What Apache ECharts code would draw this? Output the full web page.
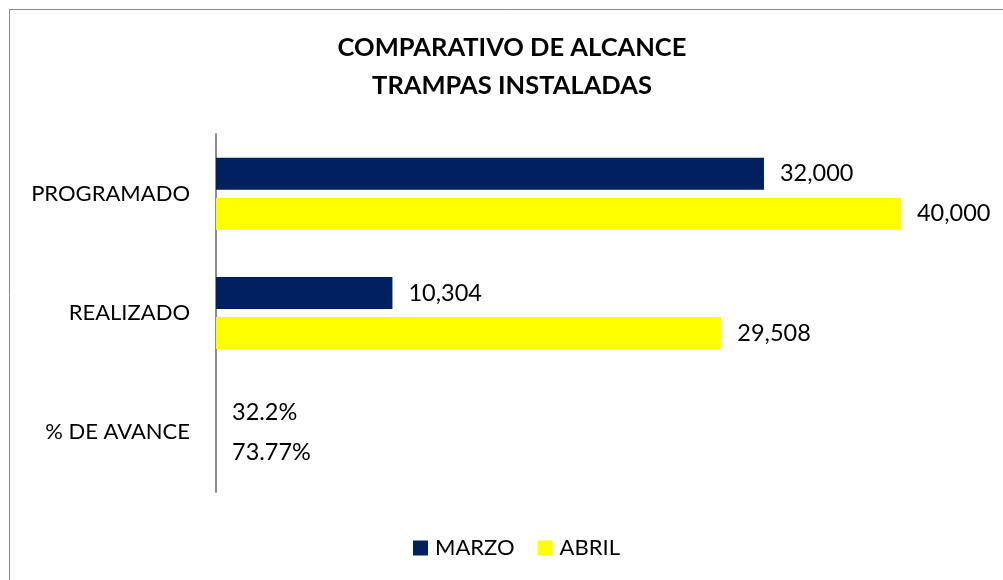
<!DOCTYPE html>
<html>
<head>
<meta charset="utf-8">
<script src="https://cdn.jsdelivr.net/npm/echarts@6/dist/echarts.min.js"></script>
<style>
  html, body { margin: 0; padding: 0; background: #fff; }
  #chart { width: 1003px; height: 580px; }
</style>
</head>
<body>
<div id="chart"></div>
<script>
const categories = ["PROGRAMADO", "REALIZADO", "% DE AVANCE"];
const marzo = [32000, 10304, 0.322];
const abril = [40000, 29508, 0.7377];

const MARZO_COLOR = "#002060";
const ABRIL_COLOR = "#FFFF00";
const FONT = "Lato";

// last row holds ratios, shown as percent
function fmt(p) {
  if (p.dataIndex === 2) return parseFloat((p.value * 100).toFixed(2)) + "%";
  return p.value.toLocaleString("en-US");
}

const valueLabel = {
  show: true,
  position: "right",
  distance: 16,
  formatter: fmt,
  fontFamily: FONT,
  fontSize: 23.5,
  color: "#000",
};

const chart = echarts.init(document.getElementById("chart"));

chart.setOption({
  animation: false,
  textStyle: { fontFamily: FONT },
  graphic: [
    {
      type: "rect",
      shape: { x: 9.5, y: 9.5, width: 1010, height: 600 },
      style: { fill: "none", stroke: "#898989", lineWidth: 1 },
      silent: true,
    },
  ],
  title: {
    text: "COMPARATIVO DE ALCANCE\nTRAMPAS INSTALADAS",
    left: 512,
    top: 29,
    padding: 0,
    textAlign: "center",
    textStyle: {
      fontFamily: FONT,
      fontWeight: "bold",
      fontSize: 25.5,
      lineHeight: 38,
      color: "#000",
    },
  },
  legend: {
    top: 537,
    left: 413,
    padding: 0,
    itemWidth: 15,
    itemHeight: 15,
    itemGap: 23,
    icon: "rect",
    textStyle: { fontFamily: FONT, fontSize: 22, color: "#000", padding: [0, 0, 0, 2] },
    data: ["MARZO", "ABRIL"],
  },
  grid: { left: 216, right: 16.4, top: 134, bottom: 88, containLabel: false },
  xAxis: {
    type: "value",
    min: 0,
    max: 45000,
    show: false,
  },
  yAxis: {
    type: "category",
    inverse: true,
    data: categories,
    axisLine: { show: true, lineStyle: { color: "#8c8c8c", width: 2 } },
    axisTick: { show: false },
    axisLabel: { margin: 26, fontFamily: FONT, fontSize: 22, color: "#000" },
  },
  series: [
    {
      name: "MARZO",
      type: "bar",
      data: marzo,
      barWidth: 32,
      barGap: "25%",
      itemStyle: { color: MARZO_COLOR },
      label: valueLabel,
    },
    {
      name: "ABRIL",
      type: "bar",
      data: abril,
      barWidth: 32,
      barGap: "25%",
      itemStyle: { color: ABRIL_COLOR },
      label: valueLabel,
    },
  ],
});
</script>
</body>
</html>
